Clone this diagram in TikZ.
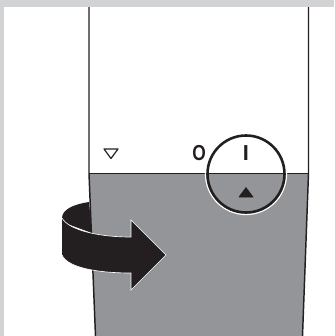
\documentclass[tikz,border=0pt]{standalone}
\usepackage{fontspec}
\setmainfont{Liberation Sans}
\definecolor{framegray}{HTML}{D1D3D4}
\definecolor{bodygray}{HTML}{939598}
\definecolor{inkblack}{HTML}{231F20}
\begin{document}
\begin{tikzpicture}[x=0.03cm,y=-0.03cm,
  edge/.style={draw=inkblack,line width=1.25pt,line join=round},
  sign/.style={inner sep=0pt,text=inkblack,font=\fontsize{18.5}{18.5}\selectfont\bfseries},
  tri/.style={line width=1.0pt,line join=round},
  ribbon/.style={fill=inkblack,draw=white,line width=0.55pt,line join=miter}]
\useasboundingbox (0,0) rectangle (334,336);
\fill[framegray] (0,0) rectangle (334,336);
\fill[white] (4,7) rectangle (334,336);
\fill[bodygray] (89,173.5) -- (308.5,173.5) -- (302.5,336) -- (95.5,336) -- cycle;
\draw[edge] (89,7) -- (89,173.5) -- (95.5,336);
\draw[edge] (308.5,7) -- (308.5,173.5) -- (302.5,336);
\draw[edge] (89,173.5) -- (308.5,173.5);
\draw[tri,draw=inkblack,fill=white] (104,149) -- (118,149) -- (111,158.5) -- cycle;
\node[sign,xscale=0.8,transform shape] (off) at (199,153.5) {O};
\node[sign] (on) at (246,153.5) {I};
\fill[inkblack,draw=inkblack,line width=0.5pt,line join=round] (246,187.5) -- (253,197) -- (239,197) -- cycle;
\draw[white,line width=1.1pt] (246,174) circle (40.5);
\draw[inkblack,line width=2.2pt] (246,174) circle (38.5);
% back of the band, then the front with its head
\fill[inkblack] (62,218) .. controls (62,209) and (75,204) .. (89,202)
  -- (92,233) -- (62,222) -- cycle;
\draw[ribbon] (62,218) .. controls (68,229) and (95,237) .. (131,237)
  -- (131,220) -- (166,255) -- (131,290) -- (131,273)
  .. controls (95,273) and (67,267) .. (62,255);
\end{tikzpicture}
\end{document}
